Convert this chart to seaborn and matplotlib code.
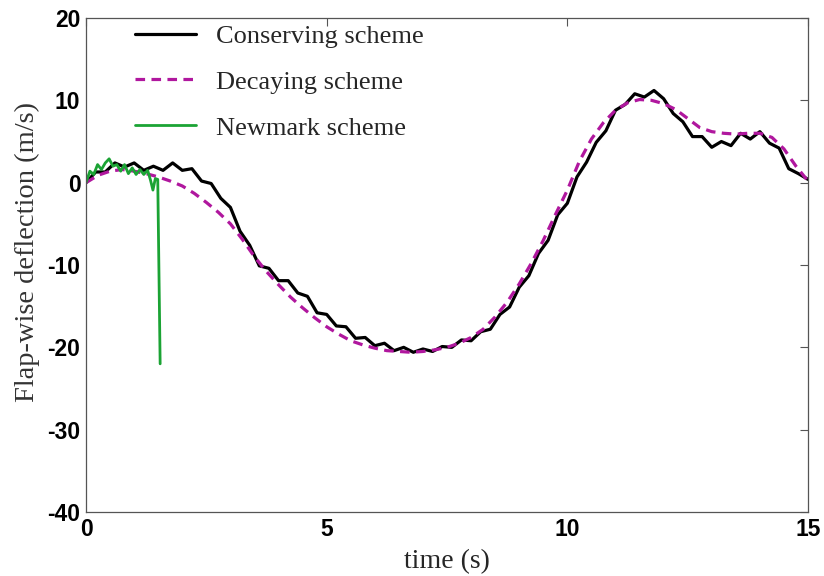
import pandas as pd
import seaborn as sns
import matplotlib.pyplot as plt

# time grids (s)
t_cons = [round(0.2 * i, 1) for i in range(76)]
t_decay = [0.25 * i for i in range(61)]
t_newm = [0, 0.08, 0.16, 0.24, 0.32, 0.40, 0.48, 0.56, 0.64, 0.72, 0.80,
          0.88, 0.96, 1.04, 1.12, 1.20, 1.28, 1.34, 1.39, 1.44, 1.49, 1.54]

# flap-wise deflection
conserving = [0.0, 1.3, 1.3, 2.4, 1.9, 2.4, 1.5, 2.0, 1.5, 2.4,
              1.5, 1.7, 0.2, -0.1, -1.9, -3.0, -5.9, -7.6, -10.1, -10.4,
              -11.9, -11.9, -13.4, -13.8, -15.8, -16.0, -17.4, -17.5, -18.9, -18.8,
              -19.8, -19.5, -20.4, -20.0, -20.6, -20.2, -20.5, -19.9, -20.0, -19.1,
              -19.2, -18.1, -17.8, -16.0, -15.1, -12.7, -11.3, -8.6, -7.0, -3.9,
              -2.5, 0.7, 2.5, 4.9, 6.3, 8.8, 9.5, 10.8, 10.4, 11.2,
              10.2, 8.4, 7.4, 5.6, 5.6, 4.3, 5.0, 4.5, 6.0, 5.3,
              6.2, 4.8, 4.2, 1.7, 1.1, 0.4]
decaying = [0.0, 0.9, 1.4, 1.6, 1.4, 1.1, 0.7, 0.2, -0.4, -1.3,
            -2.4, -3.6, -5.0, -6.9, -9.0, -10.8, -12.4, -13.9, -15.2, -16.4,
            -17.5, -18.4, -19.2, -19.7, -20.1, -20.4, -20.5, -20.6, -20.5, -20.3,
            -20.0, -19.5, -18.8, -17.8, -16.3, -14.5, -12.3, -9.8, -7.0, -3.9,
            -0.9, 2.6, 5.3, 7.3, 8.8, 9.7, 10.1, 10.0, 9.6, 8.9,
            7.8, 6.7, 6.2, 6.0, 5.9, 6.0, 6.0, 5.5, 4.1, 2.0, 0.2]
newmark = [0.0, 1.4, 1.0, 2.2, 1.6, 2.4, 2.9, 2.0, 2.2, 1.4, 2.2,
           1.1, 1.8, 1.0, 1.6, 1.0, 1.5, 0.3, -0.9, 0.5, 0.4, -22.0]

sns.set_style('white')
plt.rcParams['font.family'] = ['Liberation Serif', 'DejaVu Serif']
plt.rcParams['axes.unicode_minus'] = False

df_c = pd.DataFrame({'t': t_cons, 'v': conserving})
df_d = pd.DataFrame({'t': t_decay, 'v': decaying})
df_n = pd.DataFrame({'t': t_newm, 'v': newmark})

fig = plt.figure(figsize=(8.24, 5.76), dpi=100)
ax = fig.add_axes([0.1044, 0.1111, 0.8762, 0.8576])

sns.lineplot(data=df_c, x='t', y='v', ax=ax, color='black', lw=2.3,
             label='Conserving scheme', sort=False)
sns.lineplot(data=df_d, x='t', y='v', ax=ax, color='#b0179e', lw=2.3,
             linestyle=(0, (3, 2)), label='Decaying scheme', sort=False)
sns.lineplot(data=df_n, x='t', y='v', ax=ax, color='#1ba334', lw=2.0,
             label='Newmark scheme', sort=False)

ax.set_xlim(0, 15)
ax.set_ylim(-40, 20)
ax.set_xticks([0, 5, 10, 15])
ax.set_yticks([-40, -30, -20, -10, 0, 10, 20])
ax.tick_params(direction='in', length=6, width=0.8, top=True, right=True,
               colors='#555555', labelcolor='black', pad=4)
for lab in ax.get_xticklabels() + ax.get_yticklabels():
    lab.set_fontfamily('Liberation Sans')
    lab.set_fontweight('bold')
    lab.set_fontsize(16.5)
for s in ax.spines.values():
    s.set_color('#555555')
    s.set_linewidth(0.9)

ax.set_xlabel('time (s)', fontsize=20, labelpad=6)
ax.set_ylabel('Flap-wise deflection (m/s)', fontsize=20.5, color='#333333')
ax.yaxis.set_label_coords(-0.064, 0.526)

leg = ax.legend(loc='upper left', bbox_to_anchor=(0.05, 1.014), frameon=False,
                fontsize=19, handlelength=2.3, handletextpad=0.75, labelspacing=0.85,
                borderpad=0)

fig.savefig('out.png', dpi=100)
